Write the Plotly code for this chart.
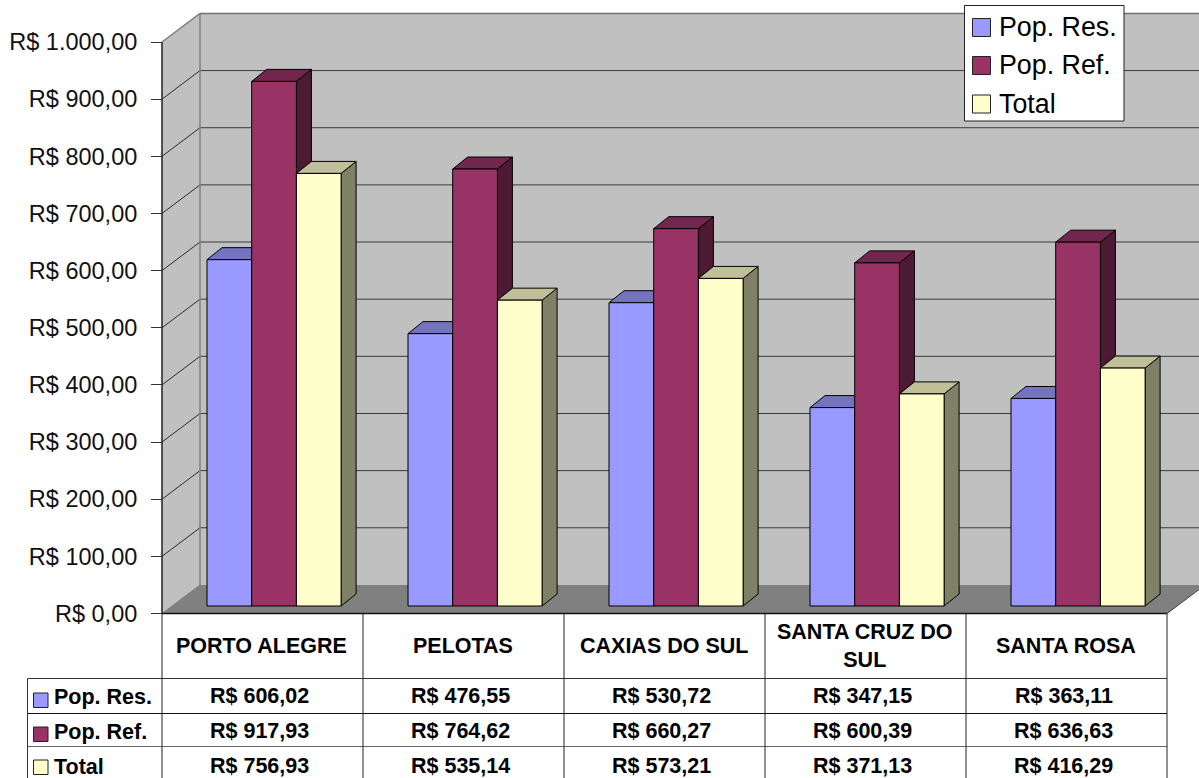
import plotly.graph_objects as go

# ---- data ----
categories = ["PORTO ALEGRE", "PELOTAS", "CAXIAS DO SUL", "SANTA CRUZ DO<br>SUL", "SANTA ROSA"]
pop_res = [606.02, 476.55, 530.72, 347.15, 363.11]
pop_ref = [917.93, 764.62, 660.27, 600.39, 636.63]
total = [756.93, 535.14, 573.21, 371.13, 416.29]
series_names = ["Pop. Res.", "Pop. Ref.", "Total"]
series_values = [pop_res, pop_ref, total]
tick_values = list(range(0, 1001, 100))
tick_labels = ["R$ 0,00", "R$ 100,00", "R$ 200,00", "R$ 300,00", "R$ 400,00", "R$ 500,00",
               "R$ 600,00", "R$ 700,00", "R$ 800,00", "R$ 900,00", "R$ 1.000,00"]

# ---- style ----
front_colors = ["#9999FF", "#993366", "#FFFFCC"]
top_colors = ["#7373BF", "#73264D", "#BFBF99"]
side_colors = ["#4D4D80", "#4D1A33", "#808066"]
FONT = "Liberation Sans, Arial, sans-serif"
W, H = 1199, 778
SCALE = 0.5715            # pixels per currency unit
Y0_FRONT = 613.5          # pixel of value 0 on the front plane
Y0_BAR = 606.0            # pixel of value 0 on the bar plane
WALL_DX, WALL_DV = 38, 50 # depth of the chart box
BAR_DX, BAR_DV = 15, 21   # depth of a bar
AX_X = 162
GROUP_W = 201
GROUP_LEFT = 207
BAR_W = 44.7
TABLE_SIZE = 21.5


def fmt(v):
    return "R$ " + f"{v:.2f}".replace(".", ",")


def px(x):
    return x / W


def py(y):
    return 1 - y / H


fig = go.Figure()

# 3D faces of the bars, on the value axis
for s, (name, vals) in enumerate(zip(series_names, series_values)):
    tx, ty, sx, sy = [], [], [], []
    for g, v in enumerate(vals):
        x0 = GROUP_LEFT + GROUP_W * g + BAR_W * s
        x1 = x0 + BAR_W
        tx += [x0, x0 + BAR_DX, x1 + BAR_DX, x1, x0, None]
        ty += [v, v + BAR_DV, v + BAR_DV, v, v, None]
        sx += [x1, x1 + BAR_DX, x1 + BAR_DX, x1, x1, None]
        sy += [v, v + BAR_DV, BAR_DV, 0, v, None]
    fig.add_trace(go.Scatter(x=sx, y=sy, mode="lines", fill="toself", fillcolor=side_colors[s],
                             line=dict(color="#000000", width=1), hoverinfo="skip", showlegend=False))
    fig.add_trace(go.Scatter(x=tx, y=ty, mode="lines", fill="toself", fillcolor=top_colors[s],
                             line=dict(color="#000000", width=1), hoverinfo="skip", showlegend=False))

# front faces
for s, (name, vals) in enumerate(zip(series_names, series_values)):
    fig.add_trace(go.Bar(
        x=[GROUP_LEFT + GROUP_W * g + BAR_W * (s + 0.5) for g in range(len(vals))],
        y=vals, width=BAR_W, name=name, marker=dict(color=front_colors[s], line=dict(color="#000000", width=1)),
        zorder=5, showlegend=False, customdata=categories, hovertemplate="%{customdata}: %{y}<extra>" + name + "</extra>"))

# helper trace that makes the front-plane axis exist
fig.add_trace(go.Scatter(x=[AX_X] * len(tick_values), y=tick_values, yaxis="y2", mode="lines",
                         line=dict(color="#222222", width=1), hoverinfo="skip", showlegend=False))

shapes = []
right = W + 40


def vpx(v):
    return Y0_FRONT - SCALE * v


def poly(points, fill, line=None, width=1, layer="below"):
    path = "M" + "L".join(f"{px(x)},{py(y)}" for x, y in points) + "Z"
    shapes.append(dict(type="path", xref="paper", yref="paper", path=path, fillcolor=fill,
                       line=dict(color=line or fill, width=width if line else 0), layer=layer))


def seg(x0, y0, x1, y1, color="#1a1a1a", width=1, layer="below"):
    shapes.append(dict(type="line", xref="paper", yref="paper", x0=px(x0), y0=py(y0), x1=px(x1), y1=py(y1),
                       line=dict(color=color, width=width), layer=layer))


dy = SCALE * WALL_DV
top, bot = vpx(1000), vpx(0)
# back wall, side wall, floor
poly([(AX_X + WALL_DX, top - dy), (right, top - dy), (right, bot - dy), (AX_X + WALL_DX, bot - dy)], "#C0C0C0")
poly([(AX_X, top), (AX_X + WALL_DX, top - dy), (AX_X + WALL_DX, bot - dy), (AX_X, bot)], "#C0C0C0")
floor_right = AX_X + GROUP_W * len(categories)
poly([(AX_X, bot), (AX_X + WALL_DX, bot - dy), (W, bot - dy), (W, bot - dy + 4), (floor_right, bot)], "#808080")
# grid lines
for v in tick_values[1:-1]:
    seg(AX_X, vpx(v), AX_X + WALL_DX, vpx(v) - dy, "#2a2a2a")
    seg(AX_X + WALL_DX, vpx(v) - dy, W, vpx(v) - dy, "#3a3a3a")
seg(AX_X, top, AX_X + WALL_DX, top - dy, "#808080", 1.5)
seg(AX_X + WALL_DX, top - dy, W, top - dy, "#707070", 1.5)
seg(AX_X + WALL_DX, top - dy, AX_X + WALL_DX, bot - dy, "#808080", 1.5)
seg(AX_X, bot, AX_X + WALL_DX, bot - dy, "#808080", 1)
seg(AX_X, top, AX_X, bot, "#222222")
seg(floor_right, bot, W, bot - 24, "#333333")

# data table
rows_y = [678.5, 713.5, 746.5]
row_centers = [696, 731, 766]
swatch_tops = [693, 727, 760]
TABLE_LEFT = 27.5
seg(AX_X, bot, floor_right, bot, "#111111", 1.5, "above")
seg(TABLE_LEFT, rows_y[0], floor_right, rows_y[0], "#333333", 1, "above")
seg(TABLE_LEFT, rows_y[1], floor_right, rows_y[1], "#111111", 1, "above")
seg(TABLE_LEFT, rows_y[2], floor_right, rows_y[2], "#666666", 1, "above")
seg(TABLE_LEFT, rows_y[0], TABLE_LEFT, H, "#333333", 1, "above")
for g in range(len(categories) + 1):
    seg(AX_X + GROUP_W * g, bot, AX_X + GROUP_W * g, H, "#222222", 1, "above")

ann = []
for g, cat in enumerate(categories):
    cx = AX_X + GROUP_W * (g + 0.5)
    ann.append(dict(xref="paper", yref="paper", x=px(cx - 1), y=py(645.5), text="<b>" + cat.replace("<br>", "</b><br><b>") + "</b>",
                    showarrow=False, xanchor="center", yanchor="middle",
                    font=dict(family=FONT, size=TABLE_SIZE, color="black")))
    for s, vals in enumerate(series_values):
        ann.append(dict(xref="paper", yref="paper", x=px(cx - 3), y=py(row_centers[s]), text="<b>" + fmt(vals[g]) + "</b>",
                        showarrow=False, xanchor="center", yanchor="middle",
                        font=dict(family=FONT, size=TABLE_SIZE, color="black")))
for s, name in enumerate(series_names):
    ann.append(dict(xref="paper", yref="paper", x=px(52), y=py(row_centers[s] + 1), text="<b>" + name + "</b>", showarrow=False,
                    xanchor="left", yanchor="middle", font=dict(family=FONT, size=TABLE_SIZE, color="black")))
    shapes.append(dict(type="rect", xref="paper", yref="paper", x0=px(33.5), x1=px(48),
                       y0=py(swatch_tops[s]), y1=py(swatch_tops[s] + 14.5), fillcolor=front_colors[s],
                       line=dict(color="#222222", width=1), layer="above"))

# legend box
shapes.append(dict(type="rect", xref="paper", yref="paper", x0=px(964.5), x1=px(1124), y0=py(5.5), y1=py(121),
                   fillcolor="white", line=dict(color="#222222", width=1), layer="above"))
leg_tops = [18.5, 56.5, 95]
leg_text = [27, 65.5, 103.5]
for s, name in enumerate(series_names):
    shapes.append(dict(type="rect", xref="paper", yref="paper", x0=px(972.5), x1=px(990.5),
                       y0=py(leg_tops[s]), y1=py(leg_tops[s] + 18), fillcolor=front_colors[s],
                       line=dict(color="#222222", width=1), layer="above"))
    ann.append(dict(xref="paper", yref="paper", x=px(997), y=py(leg_text[s]), text=name, showarrow=False,
                    xanchor="left", yanchor="middle", font=dict(family=FONT, size=26.8, color="black")))

fig.update_layout(
    width=W, height=H, margin=dict(l=0, r=0, t=0, b=0), paper_bgcolor="white", plot_bgcolor="rgba(0,0,0,0)",
    barmode="overlay", shapes=shapes, annotations=ann, showlegend=False,
    xaxis=dict(range=[0, W], domain=[0, 1], visible=False, fixedrange=True),
    yaxis=dict(range=[(Y0_BAR - H) / SCALE, Y0_BAR / SCALE], domain=[0, 1], visible=False, fixedrange=True),
    yaxis2=dict(range=[(Y0_FRONT - H) / SCALE, Y0_FRONT / SCALE], domain=[0, 1], overlaying="y", anchor="free",
                position=AX_X / W, side="left", tickmode="array", tickvals=tick_values, ticktext=tick_labels,
                ticks="outside", ticklen=11, tickcolor="#333333", tickwidth=1, showgrid=False, zeroline=False,
                showline=False, ticklabelstandoff=9, tickfont=dict(family=FONT, size=23.5, color="#111111"),
                fixedrange=True),
)
fig.write_html("out.html", config=dict(displayModeBar=False),
               post_script="document.body.style.margin='0';document.body.style.overflow='hidden';")
